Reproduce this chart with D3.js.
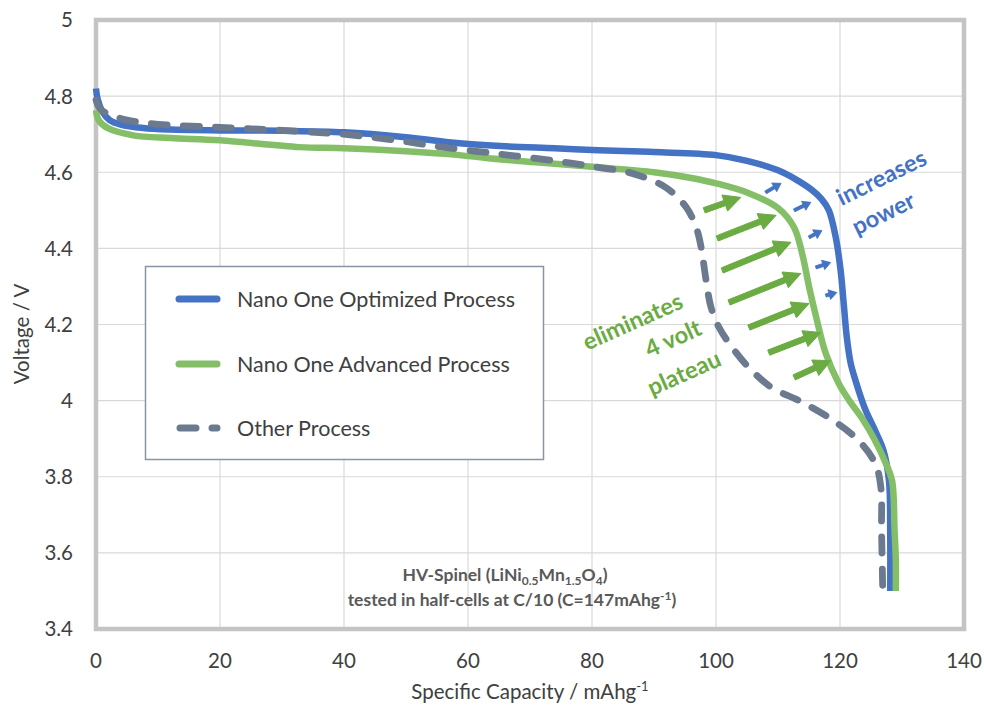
<!DOCTYPE html>
<html>
<head>
<meta charset="utf-8">
<script src="https://cdn.jsdelivr.net/npm/d3@7"></script>
<style>
body { margin: 0; background: #fff; }
text { font-family: Lato, "Open Sans", sans-serif; }
</style>
</head>
<body>
<svg id="chart" width="984" height="709"></svg>
<script>
// series: capacity (mAh/g) and voltage (V)
var optCap  = [0, 0.3, 1, 2.2, 4, 7.6, 12, 20, 30, 40, 50, 58.6, 66, 74, 81, 90, 100, 105, 110, 113, 115.5, 117, 118.2, 119.3, 120.1, 120.6, 121.1, 121.7, 122.5, 124, 125.7, 127, 127.9, 128.1, 128.1]
var optVolt = [4.82, 4.79, 4.76, 4.737, 4.725, 4.716, 4.712, 4.71, 4.709, 4.705, 4.692, 4.676, 4.668, 4.663, 4.658, 4.653, 4.645, 4.63, 4.605, 4.58, 4.553, 4.53, 4.5, 4.43, 4.342, 4.255, 4.166, 4.1, 4.053, 3.98, 3.92, 3.87, 3.79, 3.65, 3.5]

var advCap  = [0, 0.5, 2, 6, 12, 20, 32.8, 40, 50, 58.6, 65, 72, 81, 90, 96, 100, 105.3, 110.1, 112.6, 113.9, 115, 116.3, 117.7, 119.8, 121.5, 123.5, 125.5, 127.4, 128.4, 128.8, 129, 129]
var advVolt = [4.763, 4.735, 4.715, 4.697, 4.69, 4.684, 4.666, 4.663, 4.655, 4.645, 4.634, 4.625, 4.613, 4.6, 4.585, 4.571, 4.545, 4.505, 4.455, 4.386, 4.3, 4.21, 4.124, 4.045, 4.0, 3.955, 3.9, 3.835, 3.79, 3.66, 3.58, 3.5]

var othCap  = [0, 0.5, 1.7, 5, 10, 20, 30, 39.8, 48, 55.9, 65, 74, 81, 86.5, 91.9, 95.2, 96.8, 97.6, 98.4, 99.2, 100.5, 102.6, 105.3, 109, 113.4, 118.7, 123, 125.7, 126.6, 126.7, 126.9]
var othVolt = [4.79, 4.77, 4.755, 4.737, 4.726, 4.718, 4.71, 4.70, 4.685, 4.666, 4.648, 4.63, 4.613, 4.597, 4.56, 4.508, 4.455, 4.403, 4.316, 4.245, 4.192, 4.14, 4.087, 4.034, 4.0, 3.95, 3.895, 3.834, 3.771, 3.66, 3.5]

var seriesNames = ["Nano One Optimized Process", "Nano One Advanced Process", "Other Process"]
var xTicks = [0, 20, 40, 60, 80, 100, 120, 140]
var yTicks = [3.4, 3.6, 3.8, 4, 4.2, 4.4, 4.6, 4.8, 5]

// annotation arrows in data units: [cap1, volt1, cap2, volt2]
var greenArrows = [
	[98.1, 4.500, 104.0, 4.534],
	[100.2, 4.426, 109.7, 4.487],
	[101.0, 4.342, 112.1, 4.416],
	[102.1, 4.258, 113.7, 4.334],
	[105.3, 4.192, 115.0, 4.255],
	[108.5, 4.126, 116.9, 4.179],
	[112.6, 4.061, 118.5, 4.105]
]
var blueArrows = [
	[108.0, 4.547, 110.5, 4.571],
	[112.6, 4.500, 115.3, 4.521],
	[115.0, 4.429, 117.1, 4.447],
	[116.1, 4.350, 118.5, 4.363],
	[117.7, 4.276, 119.5, 4.284]
]

var blue = "#4472c4"
var green = "#84bf68"
var greenDark = "#6aab42"
var grey = "#6b7a8e"
var textCol = "#404040"

var svg = d3.select("#chart")
var x = d3.scaleLinear().domain([0, 140]).range([96, 964])
var y = d3.scaleLinear().domain([3.4, 5]).range([629, 20])

// grid
svg.append("g").selectAll("line").data(xTicks.slice(1, -1)).enter().append("line")
	.attr("x1", d => x(d)).attr("x2", d => x(d))
	.attr("y1", y(5)).attr("y2", y(3.4))
	.attr("stroke", "#d9d9d9").attr("stroke-width", 1.2)
svg.append("g").selectAll("line").data(yTicks.slice(1, -1)).enter().append("line")
	.attr("y1", d => y(d)).attr("y2", d => y(d))
	.attr("x1", x(0)).attr("x2", x(140))
	.attr("stroke", "#d9d9d9").attr("stroke-width", 1.2)

// frame
svg.append("rect")
	.attr("x", x(0)).attr("y", y(5))
	.attr("width", x(140) - x(0)).attr("height", y(3.4) - y(5))
	.attr("fill", "none").attr("stroke", "#c4c4c4").attr("stroke-width", 4.5)

// tick labels
svg.append("g").selectAll("text").data(yTicks).enter().append("text")
	.attr("x", 73).attr("y", d => y(d)).attr("dy", "0.36em")
	.attr("text-anchor", "end").attr("font-size", 20.5).attr("fill", textCol)
	.text(d => d)
svg.append("g").selectAll("text").data(xTicks).enter().append("text")
	.attr("x", d => x(d)).attr("y", 668)
	.attr("text-anchor", "middle").attr("font-size", 20.5).attr("fill", textCol)
	.text(d => d)

// axis titles
var xt = svg.append("text").attr("x", (x(0) + x(140)) / 2).attr("y", 699)
	.attr("text-anchor", "middle").attr("font-size", 20.5).attr("fill", textCol)
xt.append("tspan").text("Specific Capacity / mAhg")
xt.append("tspan").attr("dy", -8).attr("font-size", 13).text("-1")

svg.append("text")
	.attr("transform", "translate(29," + 334 + ") rotate(-90)")
	.attr("text-anchor", "middle").attr("font-size", 20.5).attr("fill", textCol)
	.text("Voltage / V")

// curves
var line = d3.line().x(d => x(d[0])).y(d => y(d[1])).curve(d3.curveCatmullRom.alpha(0.5))
var zip = (a, b) => a.map((v, i) => [v, b[i]])

svg.append("path").datum(zip(optCap, optVolt)).attr("d", line)
	.attr("fill", "none").attr("stroke", blue).attr("stroke-width", 6.5).attr("stroke-linejoin", "round")
svg.append("path").datum(zip(advCap, advVolt)).attr("d", line)
	.attr("fill", "none").attr("stroke", green).attr("stroke-width", 6.5).attr("stroke-linejoin", "round")
svg.append("path").datum(zip(othCap, othVolt)).attr("d", line)
	.attr("fill", "none").attr("stroke", grey).attr("stroke-width", 6.8)
	.attr("stroke-dasharray", "16,16").attr("stroke-linecap", "round")

// arrows
function arrowPath(a, shaft, headL, headW) {
	var x1 = x(a[0]), y1 = y(a[1]), x2 = x(a[2]), y2 = y(a[3])
	var dx = x2 - x1, dy = y2 - y1, len = Math.sqrt(dx * dx + dy * dy)
	var ux = dx / len, uy = dy / len, px = -uy, py = ux
	var bx = x2 - ux * headL, by = y2 - uy * headL
	var pts = [
		[x1 + px * shaft / 2, y1 + py * shaft / 2],
		[bx + px * shaft / 2, by + py * shaft / 2],
		[bx + px * headW / 2, by + py * headW / 2],
		[x2, y2],
		[bx - px * headW / 2, by - py * headW / 2],
		[bx - px * shaft / 2, by - py * shaft / 2],
		[x1 - px * shaft / 2, y1 - py * shaft / 2]
	]
	return "M" + pts.map(p => p[0].toFixed(1) + "," + p[1].toFixed(1)).join("L") + "Z"
}
svg.append("g").selectAll("path").data(greenArrows).enter().append("path")
	.attr("d", d => arrowPath(d, 5.5, 17, 17))
	.attr("fill", greenDark).attr("stroke", greenDark).attr("stroke-width", 1).attr("stroke-linejoin", "round")
svg.append("g").selectAll("path").data(blueArrows).enter().append("path")
	.attr("d", d => arrowPath(d, 3.2, 8, 10))
	.attr("fill", blue).attr("stroke", blue).attr("stroke-width", 0.8).attr("stroke-linejoin", "round")

// annotation text
function rotText(lines, cx, cy, ang, col) {
	var g = svg.append("g").attr("transform", "translate(" + cx + "," + cy + ") rotate(" + ang + ")")
	g.selectAll("text").data(lines).enter().append("text")
		.attr("x", d => d[1]).attr("y", d => d[2]).attr("text-anchor", "middle")
		.attr("font-size", 23.5).attr("font-weight", 700).attr("fill", col)
		.text(d => d[0])
}
rotText([["increases", 0, 0], ["power", -14, 33]], 885, 185, -26, blue)
rotText([["eliminates", 0, 0], ["4 volt", 30, 32], ["plateau", 26, 68]], 636, 329, -24, greenDark)

// legend
var lg = svg.append("g")
lg.append("rect").attr("x", 145.5).attr("y", 266.5).attr("width", 398).attr("height", 193)
	.attr("fill", "#fff").attr("stroke", "#8893a3").attr("stroke-width", 1.5)
var legendY = [299, 364, 428]
var legendCol = [blue, green, grey]
seriesNames.forEach(function(name, i) {
	var l = lg.append("line").attr("x1", 179).attr("x2", 217)
		.attr("y1", legendY[i]).attr("y2", legendY[i])
		.attr("stroke", legendCol[i]).attr("stroke-width", 7).attr("stroke-linecap", "round")
	if (i == 2) l.attr("stroke-dasharray", "16,16").attr("x1", 180)
	lg.append("text").attr("x", 237).attr("y", legendY[i]).attr("dy", "0.36em")
		.attr("font-size", 21.5).attr("fill", textCol).text(name)
})

// note
var note = svg.append("g").attr("font-size", 17.5).attr("font-weight", 700).attr("fill", "#595959")
var n1 = note.append("text").attr("x", 505).attr("y", 581).attr("text-anchor", "middle")
n1.append("tspan").text("HV-Spinel (LiNi")
n1.append("tspan").attr("dy", 4).attr("font-size", 12).text("0.5")
n1.append("tspan").attr("dy", -4).text("Mn")
n1.append("tspan").attr("dy", 4).attr("font-size", 12).text("1.5")
n1.append("tspan").attr("dy", -4).text("O")
n1.append("tspan").attr("dy", 4).attr("font-size", 12).text("4")
n1.append("tspan").attr("dy", -4).text(")")
var n2 = note.append("text").attr("x", 512).attr("y", 606).attr("text-anchor", "middle")
n2.append("tspan").text("tested in half-cells at C/10 (C=147mAhg")
n2.append("tspan").attr("dy", -6).attr("font-size", 12).text("-1")
n2.append("tspan").attr("dy", 6).text(")")
</script>
</body>
</html>
